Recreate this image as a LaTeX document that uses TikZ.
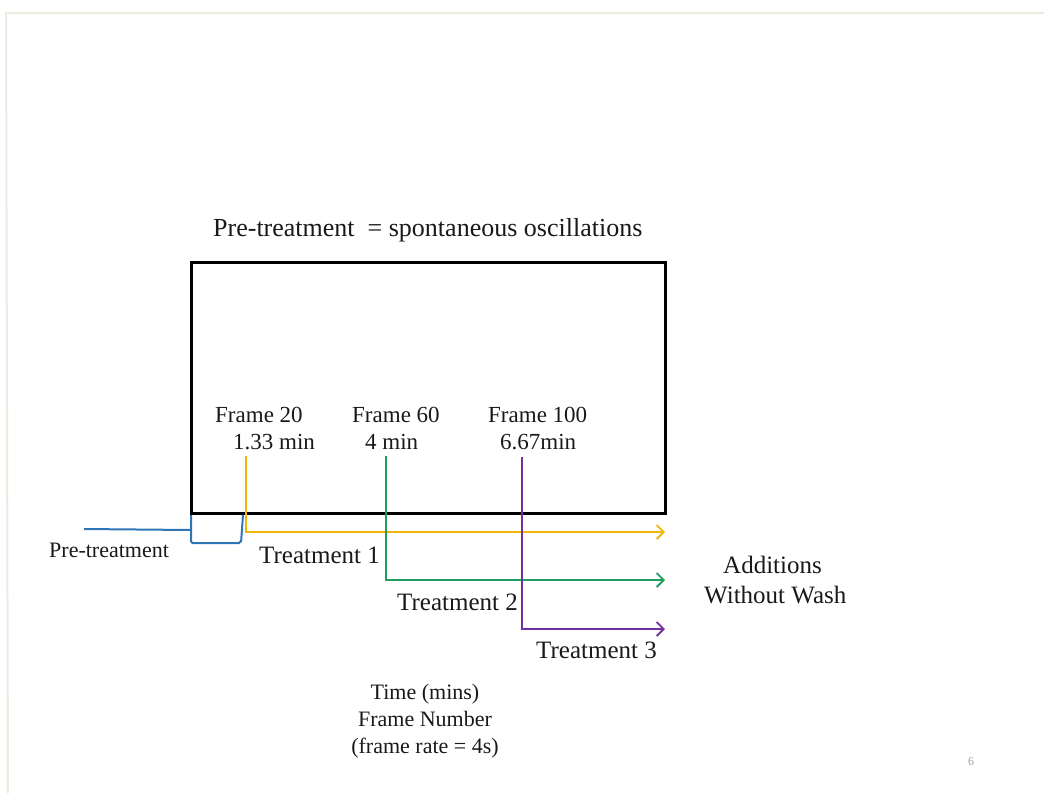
\documentclass[tikz,border=0pt]{standalone}
\usepackage{fontspec}
\setmainfont{Liberation Serif}
\usetikzlibrary{arrows.meta}
\definecolor{slideedge}{HTML}{EDEAE0}
\definecolor{tyellow}{HTML}{F2B705}
\definecolor{tgreen}{HTML}{1E9E5E}
\definecolor{tpurple}{HTML}{7030A0}
\definecolor{tblue}{HTML}{2E75B6}
\definecolor{pagenum}{HTML}{A0A0A0}
\tikzset{
  lbl/.style={anchor=base west, inner sep=0pt, text=black!90},
  treat/.style={line width=2pt, -{Straight Barb[length=7pt,width=14pt,line width=1.8pt]}},
}
\begin{document}
\begin{tikzpicture}[x=1pt,y=-1pt]
\useasboundingbox (0,0) rectangle (1044,793);
% slide edge
\draw[slideedge, line width=2pt] (1044,13) -- (6,13) -- (8,793);
% main box
\draw[line width=3pt] (191,262) rectangle (665,513);
% title
\node[lbl, font=\fontsize{26}{30}\selectfont] (title) at (213,236) {Pre-treatment\ \ = spontaneous oscillations};
% frame labels
\node[lbl, font=\fontsize{23}{27}\selectfont] (f20) at (215,422) {Frame 20};
\node[lbl, font=\fontsize{23}{27}\selectfont] (m20) at (233,449) {1.33 min};
\node[lbl, font=\fontsize{23}{27}\selectfont] (f60) at (352,422) {Frame 60};
\node[lbl, font=\fontsize{23}{27}\selectfont] (m60) at (365,449) {4 min};
\node[lbl, font=\fontsize{23}{27}\selectfont] (f100) at (488,422) {Frame 100};
\node[lbl, font=\fontsize{23}{27}\selectfont] (m100) at (500,449) {6.67min};
% coordinates
\coordinate (y0) at (246,456);
\coordinate (y1) at (246,532);
\coordinate (y2) at (665,532);
\coordinate (g0) at (386,456);
\coordinate (g1) at (386,580);
\coordinate (g2) at (665,580);
\coordinate (p0) at (522,457);
\coordinate (p1) at (522,629);
\coordinate (p2) at (665,629);
\coordinate (b0) at (84,529);
\coordinate (b1) at (191,530);
\coordinate (b2) at (191,515);
\coordinate (b3) at (191,543);
\coordinate (b4) at (241,543);
\coordinate (b5) at (243,515);
% treatments
\draw[treat, tyellow] (y0) -- (y1) -- (y2);
\draw[treat, tgreen] (g0) -- (g1) -- (g2);
\draw[treat, tpurple] (p0) -- (p1) -- (p2);
% pre-treatment bracket
\draw[tblue, line width=2pt] (b0) -- (b1);
\draw[tblue, line width=2pt, rounded corners=2pt] (b2) -- (b3) -- (b4) -- (b5);
% labels
\node[lbl, font=\fontsize{22}{26}\selectfont] (pre) at (49,557) {Pre-treatment};
\node[lbl, font=\fontsize{25}{29}\selectfont] (t1) at (259,563) {Treatment 1};
\node[lbl, font=\fontsize{25}{29}\selectfont] (t2) at (397,610) {Treatment 2};
\node[lbl, font=\fontsize{25}{29}\selectfont] (t3) at (536,658) {Treatment 3};
\node[lbl, font=\fontsize{25}{29}\selectfont] (add) at (723,573) {Additions};
\node[lbl, font=\fontsize{25}{29}\selectfont] (wash) at (704,603) {Without Wash};
\node[font=\fontsize{22}{27}\selectfont, align=center, inner sep=0pt, anchor=north, text=black!90] (time) at (425,684) {Time (mins)\\Frame Number\\(frame rate = 4s)};
\node[font=\fontsize{12}{14}\selectfont, text=pagenum, inner sep=0pt] (pg) at (971,762) {6};
\end{tikzpicture}
\end{document}
